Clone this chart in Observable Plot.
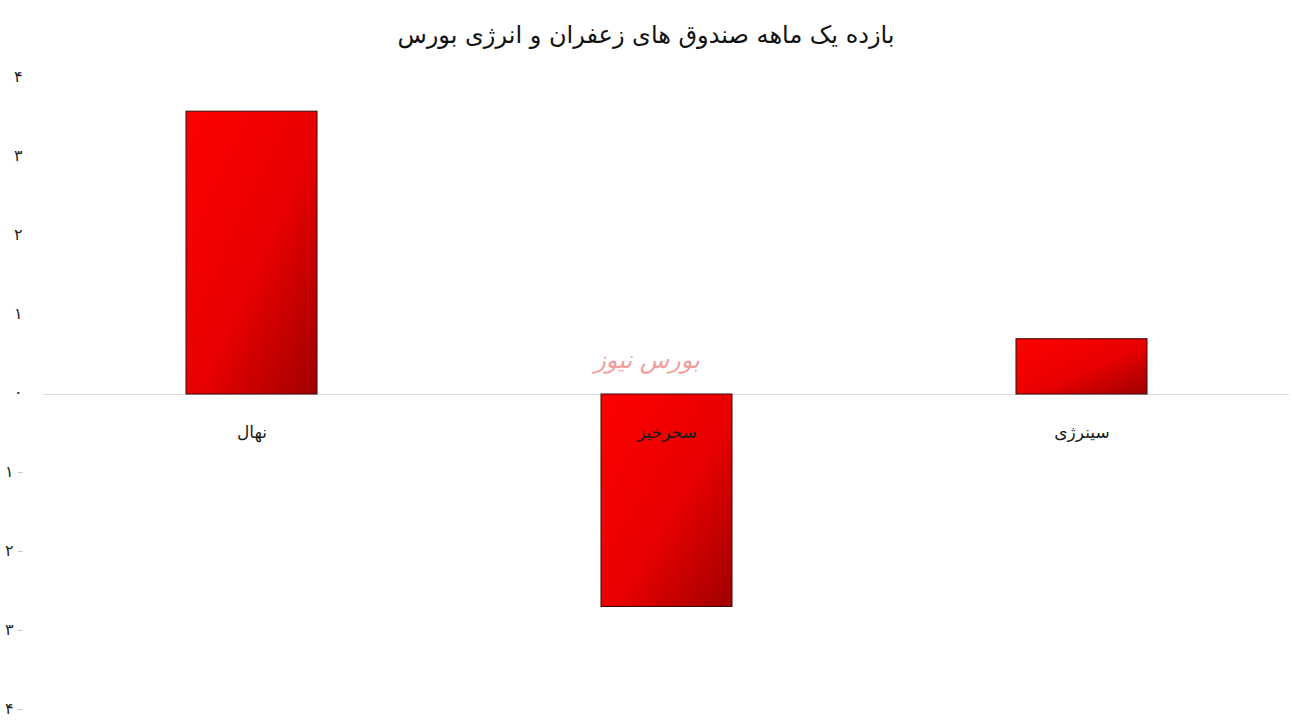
<!DOCTYPE html>
<html><head><meta charset="utf-8">
<script src="https://cdn.jsdelivr.net/npm/d3@7"></script>
<script src="https://cdn.jsdelivr.net/npm/@observablehq/plot@0.6"></script>
<style>
body{margin:0;background:#fff;font-family:"DejaVu Sans",sans-serif;}
#title{height:58px;width:1292px;text-align:center;font-size:24px;line-height:70px;color:#111;direction:rtl;}
</style></head><body>
<div id="title">بازده یک ماهه صندوق های زعفران و انرژی بورس</div>
<div id="chart"></div>
<script>
const categories = ["نهال", "سحرخیز", "سینرژی"];
const values = [3.58, -2.69, 0.70];
const tickValues = [4, 3, 2, 1, 0, -1, -2, -3, -4];
const tickLabels = ["۴", "۳", "۲", "۱", "۰", "۱", "۲", "۳", "۴"];
const watermark = "بورس نیوز";

const data = categories.map((c, i) => ({name: c, value: values[i]}));
const ticks = tickValues.map((v, i) => ({v, label: tickLabels[i]}));
const negTicks = ticks.filter(d => d.v < 0);
const nonNegTicks = ticks.filter(d => d.v >= 0);

const plot = Plot.plot({
  width: 1292, height: 669,
  marginTop: 20, marginBottom: 17, marginLeft: 43, marginRight: 3,
  style: {fontFamily: "DejaVu Sans, sans-serif", background: "#fff"},
  x: {domain: categories, paddingInner: 0.685, paddingOuter: 0.3425, axis: null},
  y: {domain: [-4, 4], axis: null},
  marks: [
    Plot.ruleY([0], {stroke: "#d9d9d9", strokeWidth: 1}),
    Plot.barY(data, {x: "name", y1: 0, y2: "value", fill: "url(#barGrad)", stroke: "#3a0a0a", strokeWidth: 1}),
    Plot.text(nonNegTicks, {y: "v", text: "label", frameAnchor: "left", dx: -21, dy: -2, textAnchor: "end", fontSize: 16, fill: "#222"}),
    Plot.text(negTicks, {y: "v", text: "label", frameAnchor: "left", dx: -30, dy: -2, textAnchor: "end", fontSize: 16, fill: "#222"}),
    Plot.text(negTicks, {y: "v", text: () => "–", frameAnchor: "left", dx: -20, dy: -2, textAnchor: "end", fontSize: 13, fill: "#c8c8c8"}),
    Plot.text(data, {x: "name", y: 0, text: "name", dy: 38, fontSize: 17, fill: "#1a1a1a"}),
    Plot.text([watermark], {x: () => categories[1], y: () => 0, text: d => d, dx: -20, dy: -34, fontSize: 24, fontStyle: "italic", fill: "#f08a8a", fillOpacity: 0.85})
  ]
});
document.getElementById("chart").appendChild(plot);

const svg = d3.select(plot);
const defs = svg.insert("defs", ":first-child");
const g = defs.append("linearGradient").attr("id", "barGrad")
  .attr("x1", "0").attr("y1", "0").attr("x2", "1").attr("y2", "1");
g.append("stop").attr("offset", "0%").attr("stop-color", "#ff0000");
g.append("stop").attr("offset", "55%").attr("stop-color", "#e80000");
g.append("stop").attr("offset", "100%").attr("stop-color", "#a00000");
</script>
</body></html>
